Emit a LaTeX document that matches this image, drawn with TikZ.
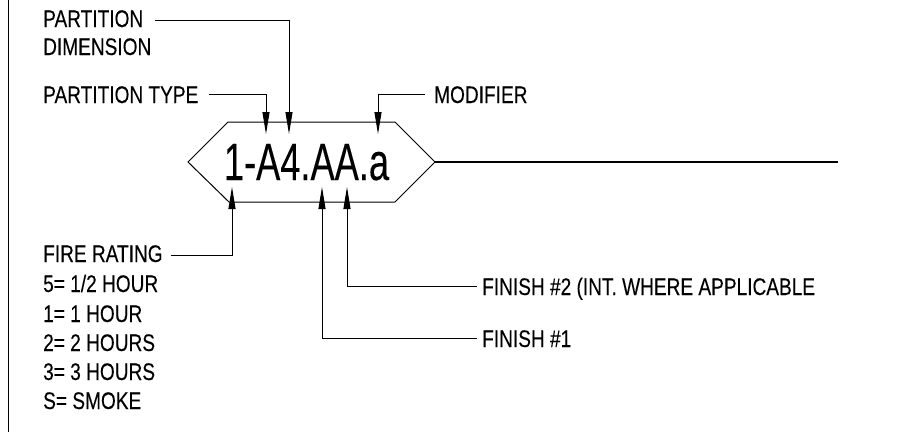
\documentclass[tikz,border=0pt]{standalone}
\usepackage{fontspec}
\usetikzlibrary{arrows.meta}
\newfontfamily\lblfont{Liberation Sans}[FakeStretch=0.795,FakeBold=0.15]
\newfontfamily\tagfont{Liberation Sans}[FakeStretch=0.69,FakeBold=0.15]
\begin{document}
\begin{tikzpicture}[x=1pt,y=-1pt,
  lbl/.style={font=\lblfont\fontsize{24}{27}\selectfont, inner sep=0pt, text height=17pt, text depth=0pt, anchor=base west},
  lead/.style={line width=1pt},
  tip/.style={-{Triangle[length=22pt,width=7pt]}}]
\useasboundingbox (0,0) rectangle (900,434);
\draw[line width=1pt] (8,0) -- (8,432);
% labels
\node[lbl] (pd1) at (43,27) {PARTITION};
\node[lbl] (pd2) at (43,55) {DIMENSION};
\node[lbl] (pt) at (43,103) {PARTITION TYPE};
\node[lbl] (mod) at (434,103) {MODIFIER};
\node[lbl] (fr) at (43,262) {FIRE RATING};
\node[lbl] (r5) at (43,292) {5= 1/2 HOUR};
\node[lbl] (r1) at (43,322) {1= 1 HOUR};
\node[lbl] (r2) at (43,351) {2= 2 HOURS};
\node[lbl] (r3) at (43,380) {3= 3 HOURS};
\node[lbl] (rs) at (43,409) {S= SMOKE};
\node[lbl] (f2) at (482,295) {FINISH \#2 (INT. WHERE APPLICABLE};
\node[lbl] (f1) at (482,347) {FINISH \#1};
% hexagon tag
\coordinate (hl) at (188,162);
\coordinate (htl) at (228,122);
\coordinate (htr) at (395,122);
\coordinate (hr) at (435,162);
\coordinate (hbr) at (395,202);
\coordinate (hbl) at (229,202);
\draw[line width=1pt] (hl) -- (htl) -- (htr) -- (hr) -- (hbr) -- (hbl) -- cycle;
\node[font=\tagfont\fontsize{52.5}{60}\selectfont, inner sep=0pt, anchor=base] (tag) at (306.5,180) {1-A4.AA.a};
\coordinate (rend) at (838,162);
\draw[line width=2pt] (hr) -- (rend);
% arrow tips
\coordinate (tPT) at (266,134);
\coordinate (tPD) at (289,134);
\coordinate (tMO) at (378,134);
\coordinate (tFR) at (232,187);
\coordinate (tF1) at (322,187);
\coordinate (tF2) at (347,187);
\draw[lead,tip] ([xshift=12pt,yshift=-1.5pt]pd1.east) -| (tPD);
\draw[lead,tip] ([xshift=10pt]pt.east) -| (tPT);
\draw[lead,tip] ([xshift=-9pt]mod.west) -| (tMO);
\draw[lead,tip] ([xshift=8pt,yshift=-2pt]fr.east) -| (tFR);
\draw[lead,tip] ([xshift=-5pt]f2.west) -| (tF2);
\draw[lead,tip] ([xshift=-5pt]f1.west) -| (tF1);
\end{tikzpicture}
\end{document}
